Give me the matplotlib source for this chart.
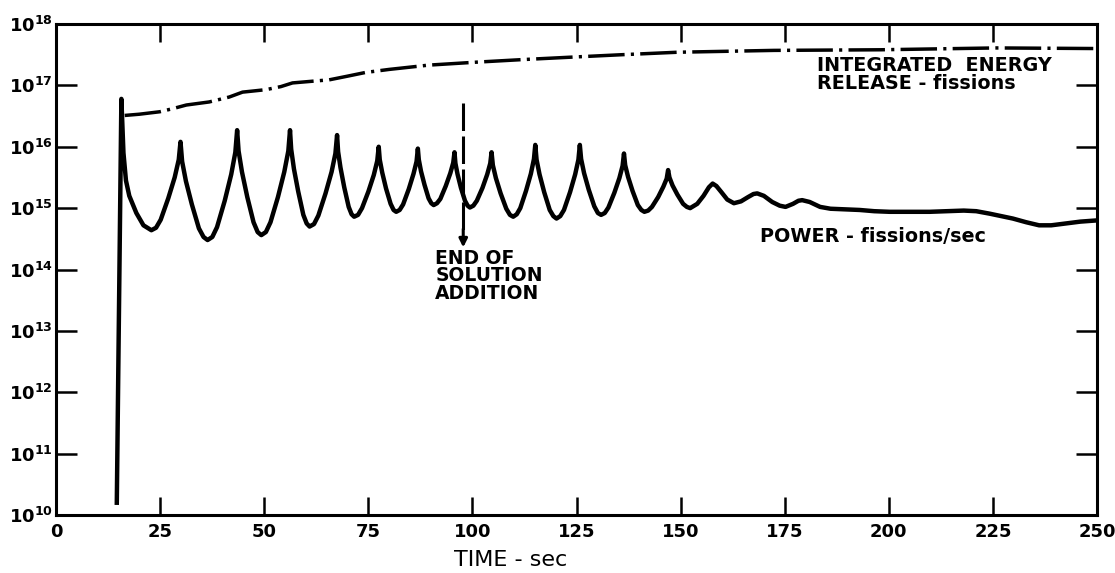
import numpy as np
import matplotlib.pyplot as plt

# ---------------- data ----------------
# power - fissions/sec  (values given as log10)
power_t = [14.6, 15.7, 16.2, 16.8, 17.6, 19.3, 21.0, 22.9,
           24.02, 25.14, 26.96, 28.50, 29.48, 29.9,
           30.29, 31.20, 32.63, 34.32, 35.43, 36.4, 37.54, 38.67, 40.52, 42.08, 43.07, 43.5,
           43.85, 44.66, 45.94, 47.44, 48.43, 49.3, 50.40, 51.51, 53.30, 54.82, 55.79, 56.2,
           56.48, 57.14, 58.17, 59.40, 60.20, 60.9, 61.96, 63.01, 64.73, 66.18, 67.10, 67.5,
           67.75, 68.32, 69.22, 70.29, 70.99, 71.6, 72.54, 73.49, 75.02, 76.32, 77.15, 77.5,
           77.75, 78.34, 79.26, 80.36, 81.07, 81.7, 82.53, 83.36, 84.72, 85.86, 86.59, 86.9,
           87.13, 87.66, 88.50, 89.48, 90.13, 90.7, 91.50, 92.30, 93.60, 94.70, 95.40, 95.7,
           95.92, 96.44, 97.25, 98.22, 98.85, 99.4, 100.23, 101.06, 102.42, 103.56, 104.29, 104.6,
           104.91, 105.64, 106.78, 108.14, 109.02, 109.8, 110.65, 111.50, 112.87, 114.04, 114.78, 115.1,
           115.41, 116.12, 117.24, 118.57, 119.44, 120.2, 121.10, 121.99, 123.45, 124.68, 125.46, 125.8,
           126.11, 126.82, 127.94, 129.27, 130.14, 130.9, 131.78, 132.66, 134.09, 135.30, 136.07, 136.4,
           136.69, 137.38, 138.46, 139.73, 140.57, 141.3, 142.21, 143.12, 144.61, 145.86, 146.66, 147.0,
           147.32, 148.06, 149.23, 150.60, 151.5, 152.3, 154.0, 155.5, 156.8, 157.7,
           158.6, 159.8, 161.2, 162.8, 164.5, 166.2, 167.5, 168.4,
           170.0, 172.0, 173.8, 175.2, 177.0, 178.3, 179.2,
           181.0, 183.5, 186.0, 189.5, 193.0, 196.5, 200.2, 205.0, 209.8, 214.0,
           218.0, 221.0, 224.2, 227.0, 229.8, 233.0, 236.1, 239.0, 242.6, 246.0, 250.0]
power_log = [10.2, 16.78, 15.90, 15.45, 15.20, 14.92, 14.72, 14.64,
             14.68, 14.81, 15.16, 15.50, 15.79, 16.08,
             15.76, 15.44, 15.06, 14.67, 14.53, 14.48, 14.53, 14.69, 15.12, 15.55, 15.91, 16.27,
             15.93, 15.59, 15.18, 14.77, 14.61, 14.56, 14.61, 14.77, 15.18, 15.59, 15.93, 16.27,
             15.96, 15.64, 15.27, 14.89, 14.75, 14.70, 14.74, 14.88, 15.24, 15.59, 15.89, 16.19,
             15.92, 15.66, 15.34, 15.02, 14.90, 14.86, 14.89, 15.00, 15.27, 15.54, 15.77, 16.00,
             15.79, 15.58, 15.32, 15.07, 14.97, 14.94, 14.97, 15.06, 15.31, 15.56, 15.76, 15.97,
             15.79, 15.60, 15.38, 15.16, 15.08, 15.05, 15.08, 15.15, 15.36, 15.57, 15.74, 15.91,
             15.73, 15.55, 15.33, 15.12, 15.04, 15.01, 15.04, 15.12, 15.33, 15.55, 15.73, 15.91,
             15.70, 15.49, 15.24, 14.99, 14.89, 14.86, 14.90, 15.00, 15.28, 15.56, 15.80, 16.03,
             15.79, 15.55, 15.26, 14.97, 14.87, 14.83, 14.87, 14.97, 15.26, 15.55, 15.79, 16.03,
             15.80, 15.57, 15.30, 15.03, 14.92, 14.89, 14.92, 15.01, 15.25, 15.49, 15.69, 15.89,
             15.70, 15.51, 15.28, 15.05, 14.97, 14.94, 14.96, 15.02, 15.18, 15.35, 15.48, 15.62,
             15.50, 15.37, 15.22, 15.07, 15.02, 15.00, 15.07, 15.20, 15.34, 15.40,
             15.36, 15.26, 15.14, 15.08, 15.11, 15.18, 15.23, 15.24,
             15.20, 15.10, 15.04, 15.02, 15.07, 15.12, 15.13,
             15.10, 15.02, 14.99, 14.98, 14.97, 14.95, 14.94, 14.94, 14.94, 14.95,
             14.96, 14.95, 14.91, 14.87, 14.83, 14.77, 14.72, 14.72, 14.75, 14.78, 14.80]

# integrated energy release - fissions (log10)
energy_t = [16.5, 20.0, 24.9, 28.0, 31.3, 36.8, 41.6, 44.8, 50.4, 54.0, 56.8,
            62.0, 65.6, 70.0, 74.3, 80.0, 89.5, 101.4, 112.0, 123.8, 136.0,
            149.3, 172.4, 197.9, 225.8, 250.0]
energy_log = [16.51, 16.53, 16.57, 16.62, 16.68, 16.73, 16.81, 16.89, 16.93, 16.98, 17.04,
              17.07, 17.09, 17.15, 17.21, 17.26, 17.33, 17.38, 17.42, 17.46, 17.50,
              17.54, 17.57, 17.58, 17.61, 17.60]

end_t = 97.8  # end of solution addition

xticks = [0, 25, 50, 75, 100, 125, 150, 175, 200, 225, 250]
ydecades = [10, 11, 12, 13, 14, 15, 16, 17, 18]

plt.rcParams['font.family'] = ['DejaVu Sans']
plt.rcParams['mathtext.default'] = 'bf'

fig = plt.figure(figsize=(11.15, 5.73), dpi=100)
ax = fig.add_axes([56 / 1115, 58 / 573, 1041 / 1115, 491 / 573])

# ------------- curves -------------
ax.plot(power_t, 10.0 ** np.array(power_log), color='black', lw=3.2,
        solid_joinstyle='round')
ax.plot(energy_t, 10.0 ** np.array(energy_log), color='black', lw=2.5,
        linestyle=(0, (10.5, 1.8, 0.9, 1.8)))

# end of solution addition marker
ax.plot([end_t, end_t], [10 ** 16.71, 10 ** 14.62], color='black', lw=2.2,
        linestyle=(0, (9, 1.8)))
ax.annotate('', xy=(end_t, 10 ** 14.36), xytext=(end_t, 10 ** 14.66),
            arrowprops=dict(arrowstyle='-|>', color='black', lw=2.2,
                            mutation_scale=12, shrinkA=0, shrinkB=0))

# ------------- labels -------------
ax.text(91.1, 10 ** 14.34, 'END OF\nSOLUTION\nADDITION', fontsize=13.5,
        fontweight='bold', va='top', ha='left', linespacing=0.9)
ax.text(182.8, 10 ** 17.48, 'INTEGRATED  ENERGY\nRELEASE - fissions', fontsize=13.8,
        fontweight='bold', va='top', ha='left', linespacing=0.95)
ax.text(169.1, 10 ** 14.53, 'POWER - fissions/sec', fontsize=13.8,
        fontweight='bold', va='center', ha='left')

# ------------- axes -------------
ax.set_yscale('log')
ax.set_xlim(0, 250)
ax.set_ylim(1e10, 1e18)

ax.set_xticks(xticks)
ax.set_xticklabels([str(v) for v in xticks], fontsize=13, fontweight='bold')
ax.set_yticks([10.0 ** d for d in ydecades])
ax.set_yticklabels([r'$10^{%d}$' % d for d in ydecades], fontsize=13)
ax.minorticks_off()

ax.tick_params(axis='x', direction='in', length=13, width=1.8, pad=6,
               top=True, bottom=True)
ax.tick_params(axis='y', direction='in', length=15, width=1.8, pad=2,
               left=True, right=True)

for side in ax.spines.values():
    side.set_linewidth(2.2)

ax.set_xlabel('TIME - sec', fontsize=16)
ax.xaxis.set_label_coords(0.437, -0.072)

plt.savefig('out.png', dpi=100)
